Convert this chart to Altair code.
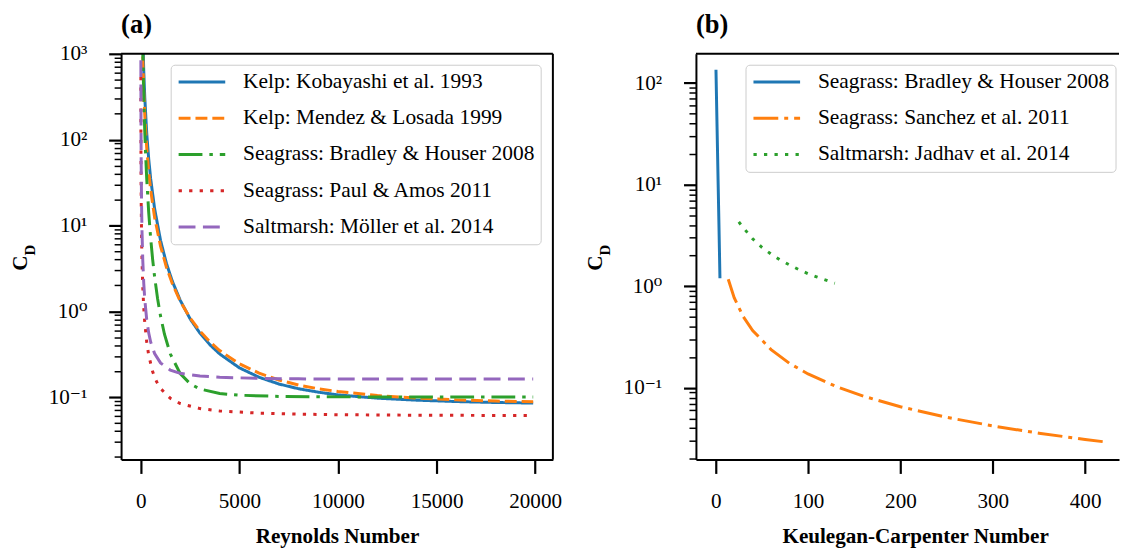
import altair as alt
import pandas as pd

FONT = "Liberation Serif, Times New Roman, Times, DejaVu Serif, serif"
FS = 21.3

# ---------------- Panel (a): C_D vs Reynolds number ----------------
names_a = ["Kelp: Kobayashi et al. 1993", "Kelp: Mendez & Losada 1999",
           "Seagrass: Bradley & Houser 2008", "Seagrass: Paul & Amos 2011",
           "Saltmarsh: Möller et al. 2014"]
colors_a = ["#1f77b4", "#ff7f0e", "#2ca02c", "#d62728", "#9467bd"]
dashes_a = [[1, 0], [12, 5], [24, 7, 3.5, 7], [3.3, 7.3], [17, 7.5]]

kob_re = [100, 150, 200, 300, 400, 500, 700, 1000, 1300, 1600, 2000, 2500, 3000, 3500, 4000,
          5000, 6000, 7000, 8000, 9000, 10000, 12000, 14000, 16000, 18000, 19900]
kob_cd = [1667, 629, 316, 119, 60.0, 35.0, 15.7, 6.71, 3.61, 2.23, 1.34, 0.816, 0.555, 0.408, 0.318,
          0.219, 0.170, 0.142, 0.125, 0.114, 0.106, 0.097, 0.092, 0.0886, 0.0864, 0.0851]
men_re = [80, 100, 150, 200, 300, 400, 500, 700, 1000, 1300, 1600, 2000, 2500, 3000, 3500, 4000,
          5000, 6000, 7000, 8000, 9000, 10000, 12000, 14000, 16000, 18000, 19900]
men_cd = [1468, 898, 368, 196, 80.0, 42.6, 26.0, 12.4, 5.74, 3.26, 2.09, 1.31, 0.835, 0.586, 0.440, 0.348,
          0.244, 0.190, 0.158, 0.138, 0.125, 0.116, 0.104, 0.097, 0.0927, 0.0898, 0.0880]
bra_re = [90, 120, 150, 200, 250, 300, 400, 500, 600, 700, 850, 1000, 1200, 1500, 2000, 2500, 3000,
          4000, 5000, 7000, 10000, 15000, 19900]
bra_cd = [1577, 636, 313, 126.6, 62.6, 35.1, 14.3, 7.08, 4.03, 2.52, 1.41, 0.882, 0.540, 0.317, 0.1875,
          0.143, 0.124, 0.110, 0.105, 0.1017, 0.1005, 0.1001, 0.1000]
pau_re = [2, 5, 10, 20, 40, 60, 100, 150, 200, 300, 400, 600, 800, 1000, 1500, 2000, 3000, 4000,
          6000, 8000, 10000, 14000, 19900]
pau_cd = [538, 142.6, 52.1, 19.1, 7.05, 3.94, 1.91, 1.09, 0.738, 0.436, 0.308, 0.198, 0.151, 0.126,
          0.0965, 0.0840, 0.0734, 0.0688, 0.0649, 0.0632, 0.0623, 0.0614, 0.0609]
mol_re = [3.5, 5, 10, 20, 40, 60, 100, 150, 200, 300, 400, 500, 700, 1000, 1500, 2000, 3000, 4000,
          6000, 8000, 10000, 14000, 19900]
mol_cd = [844, 475, 155, 50.6, 16.7, 8.74, 3.92, 2.11, 1.39, 0.796, 0.560, 0.438, 0.321, 0.250, 0.206,
          0.189, 0.176, 0.170, 0.165, 0.163, 0.162, 0.162, 0.162]

# ---------------- Panel (b): C_D vs Keulegan-Carpenter number ----------------
names_b = ["Seagrass: Bradley & Houser 2008", "Seagrass: Sanchez et al. 2011",
           "Saltmarsh: Jadhav et al. 2014"]
colors_b = ["#1f77b4", "#ff7f0e", "#2ca02c"]
dashes_b = [[1, 0], [25, 6, 4, 6], [3.3, 7.3]]

bh_kc = [0.3, 1.4, 2.5, 3.6, 4.6]
bh_cd = [135, 40, 12, 3.7, 1.2]
sa_kc = [13.6, 20, 30, 40, 60, 80, 100, 130, 160, 200, 250, 300, 350, 400, 424]
sa_cd = [1.17, 0.772, 0.499, 0.367, 0.238, 0.174, 0.137, 0.1035, 0.0828, 0.0652, 0.0513, 0.0422,
         0.0358, 0.0310, 0.0292]
ja_kc = [25, 30, 40, 50, 60, 70, 80, 90, 100, 110, 129]
ja_cd = [4.3, 3.76, 2.93, 2.42, 2.07, 1.81, 1.62, 1.46, 1.33, 1.23, 1.07]

x_ticks_a = [0, 5000, 10000, 15000, 20000]
x_ticks_b = [0, 100, 200, 300, 400]

W_A, W_B, H = 435.3, 426.5, 409.0

IS_DEC = "abs(log(datum.value)/LN10 - round(log(datum.value)/LN10)) < 0.001"
SUP = "['⁻¹','⁰','¹','²','³'][round(log(datum.value)/LN10) + 1]"


def log_ticks(lo, hi):
    vals = []
    for e in range(-2, 4):
        for m in range(1, 10):
            v = round(m * 10 ** e, 6)
            if lo <= v <= hi:
                vals.append(v)
    return vals


def y_axis(lo, hi):
    return alt.Axis(
        values=log_ticks(lo, hi),
        labelExpr=f"({IS_DEC}) ? '10' + {SUP} : ''",
        tickSize={"condition": {"test": IS_DEC, "value": 12.5}, "value": 7},
        tickWidth={"condition": {"test": IS_DEC, "value": 2.2}, "value": 1.5},
        tickColor="black", labelPadding=22, labelFont=FONT, labelFontSize=FS,
        labelColor="black", labelOverlap=False, title=None, grid=False,
        domain=True, domainColor="black", domainWidth=2,
    )


def x_axis(vals, title, title_x):
    return alt.Axis(
        values=vals, format="d", tickSize=14, tickWidth=2.2, tickColor="black",
        labelPadding=17, labelFont=FONT, labelFontSize=FS, labelColor="black",
        labelFlush=False, labelOverlap=False, grid=False,
        domain=True, domainColor="black", domainWidth=2,
        title=title, titleFont=FONT, titleFontSize=FS, titleFontWeight="bold",
        titleColor="black", titlePadding=14, titleX=title_x,
    )


def legend():
    return alt.Legend(
        title=None, orient="none", legendX=50, legendY=11,
        symbolType="M-2.35,0H2.35", symbolSize=400, symbolStrokeWidth=3,
        symbolFillColor="transparent", symbolOffset=14, labelOffset=30,
        labelFont=FONT, labelFontSize=21.6, labelColor="black", labelLimit=0,
        rowPadding=13.5, padding=6, strokeColor="#cccccc",
        fillColor="rgba(255,255,255,0.8)", cornerRadius=4,
    )


def text_layer(txt, size, x, y, angle=0, align="center", baseline="middle"):
    return alt.Chart(pd.DataFrame({"t": [txt]})).mark_text(
        angle=angle, font=FONT, fontSize=size, fontWeight="bold", color="black",
        align=align, baseline=baseline).encode(text="t:N", x=alt.value(x), y=alt.value(y))


def panel(series, names, colors, dashes, xdom, ydom, xvals, xtitle, width, title_x, label):
    xs = alt.Scale(domain=xdom, nice=False, zero=False)
    ys = alt.Scale(type="log", domain=ydom, nice=False)
    layers = []
    for name, xv, yv in series:
        df = pd.DataFrame({"x": xv, "y": yv, "series": name})
        layers.append(
            alt.Chart(df).mark_line(clip=True, strokeWidth=3).encode(
                x=alt.X("x:Q", scale=xs, axis=x_axis(xvals, xtitle, title_x)),
                y=alt.Y("y:Q", scale=ys, axis=y_axis(ydom[0], ydom[1])),
                color=alt.Color("series:N", scale=alt.Scale(domain=names, range=colors), legend=legend()),
                strokeDash=alt.StrokeDash("series:N", scale=alt.Scale(domain=names, range=dashes), legend=legend()),
            )
        )
    one = pd.DataFrame({"k": [0]})
    # top spine
    layers.append(alt.Chart(one).mark_rule(color="black", strokeWidth=2).encode(
        x=alt.value(0), x2=alt.value(width), y=alt.value(0)))
    # y-axis title C_D (C with subscript D)
    layers.append(text_layer("C", FS, -101, 211, angle=270))
    layers.append(text_layer("D", 15, -92, 198, angle=270))
    # panel label
    layers.append(text_layer(label, 26.7, 0, -21, align="left", baseline="alphabetic"))
    return alt.layer(*layers).properties(width=width, height=H)


series_a = [(names_a[0], kob_re, kob_cd), (names_a[1], men_re, men_cd), (names_a[2], bra_re, bra_cd),
            (names_a[3], pau_re, pau_cd), (names_a[4], mol_re, mol_cd)]
series_b = [(names_b[0], bh_kc, bh_cd), (names_b[1], sa_kc, sa_cd), (names_b[2], ja_kc, ja_cd)]

pa = panel(series_a, names_a, colors_a, dashes_a, [-1000, 20900], [0.0187, 1000], x_ticks_a,
           "Reynolds Number", W_A, W_A / 2, "(a)")
# right spine of panel (a)
pa = alt.layer(pa, alt.Chart(pd.DataFrame({"k": [0]})).mark_rule(color="black", strokeWidth=2).encode(
    x=alt.value(W_A), y=alt.value(0), y2=alt.value(H)))
pb = panel(series_b, names_b, colors_b, dashes_b, [-21.4, 436.7], [0.0197, 194], x_ticks_b,
           "Keulegan-Carpenter Number", W_B, 221, "(b)")

chart = alt.hconcat(pa, pb, spacing=143.5, bounds="flush").resolve_scale(
    color="independent", strokeDash="independent", x="independent", y="independent"
).resolve_legend(color="independent", strokeDash="independent").properties(
    padding={"left": 2, "top": 2, "right": 0, "bottom": 0}
).configure_view(stroke=None)

chart.save("out.html", embed_options={"renderer": "svg", "actions": False})
